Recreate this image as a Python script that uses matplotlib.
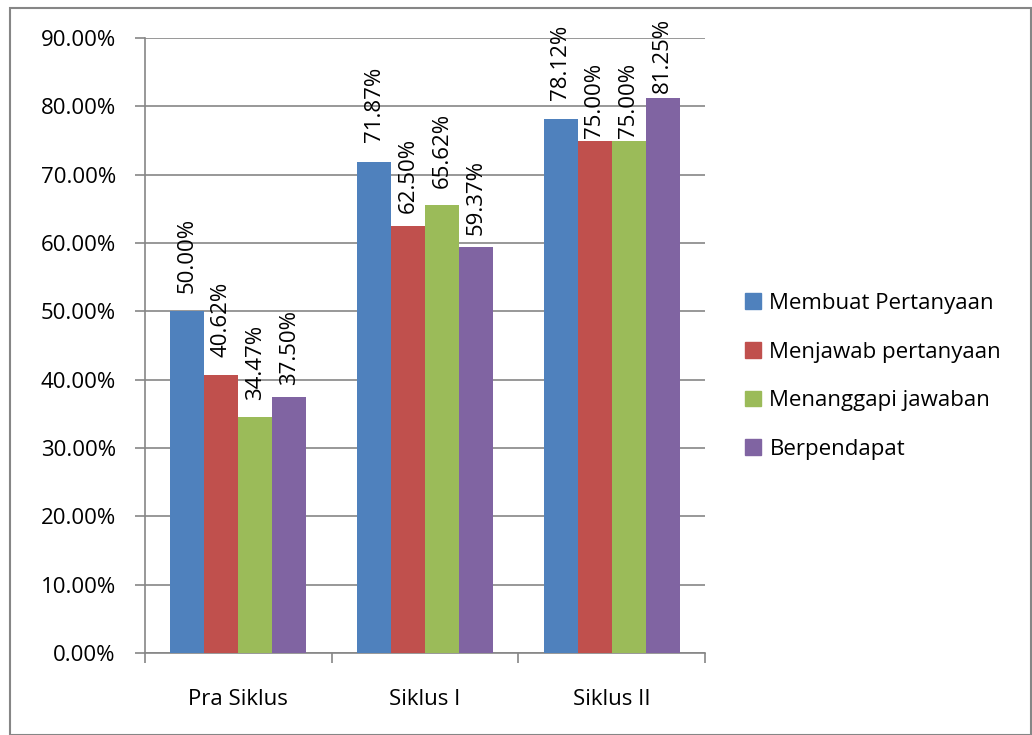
import matplotlib
matplotlib.use("Agg")
import matplotlib.pyplot as plt
import numpy as np
from matplotlib.patches import Rectangle

categories = ["Pra Siklus", "Siklus I", "Siklus II"]
series_names = ["Membuat Pertanyaan", "Menjawab pertanyaan", "Menanggapi jawaban", "Berpendapat"]
membuat = [50.00, 71.87, 78.12]
menjawab = [40.62, 62.50, 75.00]
menanggapi = [34.47, 65.62, 75.00]
berpendapat = [37.50, 59.37, 81.25]
series = [membuat, menjawab, menanggapi, berpendapat]
colors = ["#4F81BD", "#C0504D", "#9BBB59", "#8064A2"]
yticks = [0, 10, 20, 30, 40, 50, 60, 70, 80, 90]
# gap (in pixels) between each bar top and its label, per series / per category
label_gaps = [[18, 20, 19], [18, 13, 2], [17, 17, 2], [12, 12, 5]]

plt.rcParams['font.family'] = ['Open Sans', 'DejaVu Sans']
FS = 16

fig = plt.figure(figsize=(10.32, 7.35), dpi=100)
fig.patches.append(Rectangle((10/1032, 0.0), 1 - 10/1032 - 0.001, 1 - 8/735, transform=fig.transFigure,
                             fill=False, edgecolor="#868686", linewidth=1.5))
ax = fig.add_axes([145/1032, 1 - 653/735, (705-145)/1032, (653-38)/735])

n = len(series)
bw = 1 / (n + 1.5)
x = np.arange(len(categories))
for i, (vals, c, name) in enumerate(zip(series, colors, series_names)):
    pos = x - n*bw/2 + bw*(i + 0.5)
    ax.bar(pos, vals, width=bw, color=c, label=name, zorder=3)
    for p, v, g in zip(pos, vals, label_gaps[i]):
        ax.annotate(f"{v:.2f}%", (p, v), xytext=(0, g*0.72), textcoords="offset points",
                    rotation=90, ha="center", va="bottom", fontsize=FS, color="black",
                    annotation_clip=False, zorder=5)

ax.set_xlim(-0.5, len(categories) - 0.5)
ax.set_ylim(0, 90)
ax.set_yticks(yticks)
ax.set_yticklabels([f"{t:.2f}%" for t in yticks], fontsize=FS)
ax.yaxis.grid(True, color="#868686", linewidth=1.2, zorder=0)
ax.set_axisbelow(True)
ax.set_xticks(x)
ax.set_xticklabels(categories, fontsize=FS)
ax.set_xticks(np.arange(len(categories) + 1) - 0.5, minor=True)
ax.tick_params(axis='x', which='major', length=0, pad=26)
ax.tick_params(axis='x', which='minor', length=7, width=1.2, color="#868686", direction='out')
ax.tick_params(axis='y', length=7, width=1.2, color="#868686", direction='out', pad=14)
for s in ["top", "right"]:
    ax.spines[s].set_visible(False)
for s in ["left", "bottom"]:
    ax.spines[s].set_color("#868686")
    ax.spines[s].set_linewidth(1.2)

handles = [Rectangle((0, 0), 1, 1, color=c) for c in colors]
leg = fig.legend(handles, series_names, loc="upper left", bbox_to_anchor=(745/1032, 1 - 293/735),
                 frameon=False, fontsize=FS, handlelength=0.7, handleheight=0.7,
                 handletextpad=0.4, labelspacing=1.24, borderpad=0, borderaxespad=0)

fig.savefig("out.png", dpi=100)
